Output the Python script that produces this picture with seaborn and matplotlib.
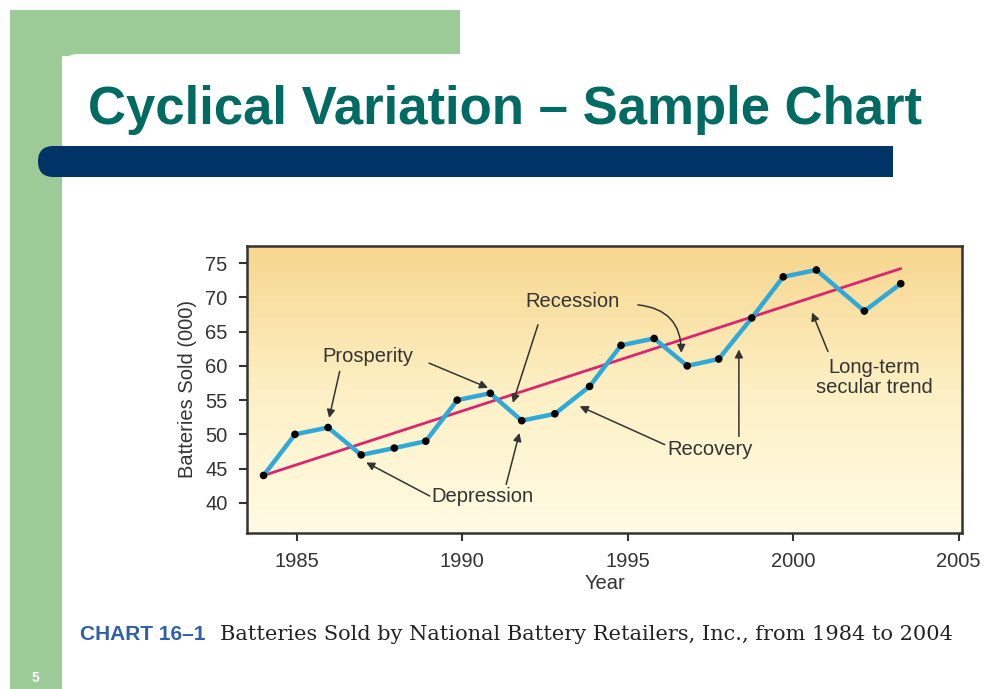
import numpy as np
import pandas as pd
import seaborn as sns
import matplotlib.pyplot as plt
from matplotlib.patches import Rectangle, FancyBboxPatch
from matplotlib.colors import LinearSegmentedColormap

# Values
years = [1984.0, 1984.95, 1985.95, 1986.95, 1987.95, 1988.9, 1989.85, 1990.85,
         1991.8, 1992.8, 1993.85, 1994.8, 1995.8, 1996.8, 1997.75, 1998.75,
         1999.7, 2000.7, 2002.15, 2003.25]
sold = [44, 50, 51, 47, 48, 49, 55, 56, 52, 53, 57, 63, 64, 60, 61, 67,
        73, 74, 68, 72]
trend_years = [1984.0, 2003.25]
trend_sold = [44.0, 74.2]
x_ticks = [1985, 1990, 1995, 2000, 2005]
y_ticks = [40, 45, 50, 55, 60, 65, 70, 75]

sns.set_theme(style="white")
plt.rcParams['font.family'] = ['Liberation Sans', 'DejaVu Sans']

W, H = 987.0, 689.0
fig = plt.figure(figsize=(W / 100, H / 100), dpi=100)
fig.patch.set_facecolor("white")


def px_box(x0, y0, x1, y1):
    """pixel box (top-left origin) -> inches (bottom-left origin)"""
    return x0 / 100, (H - y1) / 100, (x1 - x0) / 100, (y1 - y0) / 100


def add_rect(x0, y0, x1, y1, color, z, rounding=None):
    x, y, w, h = px_box(x0, y0, x1, y1)
    if rounding is None:
        p = Rectangle((x, y), w, h, transform=fig.dpi_scale_trans,
                      facecolor=color, lw=0, zorder=z)
    else:
        p = FancyBboxPatch((x, y), w, h, boxstyle=f"round,pad=0,rounding_size={rounding}",
                           transform=fig.dpi_scale_trans, facecolor=color, lw=0, zorder=z)
    fig.patches.append(p)


green = "#9ccb98"
add_rect(10, 10, 62, H, green, 0)
add_rect(10, 10, 460, 56, green, 0)
add_rect(62, 54, 975, H + 40, "white", 1, rounding=0.16)
add_rect(62, 120, 120, H, "white", 1)
# navy bar: round left end, square right end
add_rect(38, 146, 700, 177, "#003366", 2, rounding=0.155)
add_rect(400, 146, 893, 177, "#003366", 2)

fig.text(88 / W, 1 - 110 / H, "Cyclical Variation \u2013 Sample Chart", color="#006b63",
         fontsize=38, fontweight="bold", va="center", ha="left", zorder=3)
fig.text(35 / W, 1 - 678 / H, "5", color="white", fontsize=10, fontweight="bold",
         ha="center", va="center", zorder=3)

# caption
fig.text(80 / W, 1 - 634 / H, "CHART 16\u20131", color="#2f5fa6", fontsize=15,
         fontweight="bold", va="center", ha="left", zorder=3)
fig.text(220 / W, 1 - 634 / H,
         "Batteries Sold by National Battery Retailers, Inc., from 1984 to 2004",
         color="#222222", fontsize=15, family=["DejaVu Serif"],
         va="center", ha="left", zorder=3)

ax = fig.add_axes([247 / W, 1 - 533 / H, 715 / W, 287 / H])
ax.set_zorder(5)
xmin, xmax, ymin, ymax = 1983.5, 2005.1, 35.6, 77.5

# warm gradient behind the plot
grad = np.linspace(0, 1, 256).reshape(-1, 1)
bg = LinearSegmentedColormap.from_list("bg", ["#fffbe4", "#fdf0c4", "#f7d68e"])
ax.imshow(grad, cmap=bg, aspect="auto", origin="lower",
          extent=[xmin, xmax, ymin, ymax], zorder=0)

df = pd.DataFrame({"Year": years, "Sold": sold})
trend = pd.DataFrame({"Year": trend_years, "Sold": trend_sold})
sns.lineplot(data=trend, x="Year", y="Sold", color="#d9266f", lw=2, ax=ax, zorder=2)
sns.lineplot(data=df, x="Year", y="Sold", color="#2ea9d9", lw=3.2, ax=ax, zorder=3)
sns.scatterplot(data=df, x="Year", y="Sold", color="black", s=30, ax=ax, zorder=4,
                edgecolor="none")

ax.set_xlim(xmin, xmax)
ax.set_ylim(ymin, ymax)
ax.set_xticks(x_ticks)
ax.set_yticks(y_ticks)
ax.tick_params(axis="both", direction="out", length=6, width=1.5, colors="#333333",
               labelsize=14.5, labelcolor="#333333", bottom=True, left=True, pad=8)
for s in ax.spines.values():
    s.set_color("#333333")
    s.set_linewidth(1.8)
ax.set_xlabel("Year", fontsize=14.5, color="#333333", labelpad=2)
ax.set_ylabel("Batteries Sold (000)", fontsize=14.5, color="#333333", labelpad=6)

arrow = dict(arrowstyle="-|>", color="#333333", lw=1.1, mutation_scale=12,
             shrinkA=0, shrinkB=0)
txt = dict(fontsize=14.5, color="#333333", ha="center", va="center")

ax.text(1987.15, 61.3, "Prosperity", **txt)
ax.annotate("", xy=(1985.98, 52.4), xytext=(1986.3, 59.2), arrowprops=arrow)
ax.annotate("", xy=(1990.78, 56.8), xytext=(1989.0, 60.4), arrowprops=arrow)

ax.text(1993.34, 69.4, "Recession", **txt)
ax.annotate("", xy=(1991.53, 54.6), xytext=(1992.29, 66.0), arrowprops=arrow)
ax.annotate("", xy=(1996.62, 61.9), xytext=(1995.31, 68.9),
            arrowprops=dict(arrow, connectionstyle="arc3,rad=-0.45"))

ax.text(1990.62, 40.9, "Depression", **txt)
ax.annotate("", xy=(1987.1, 45.9), xytext=(1989.02, 41.0), arrowprops=arrow)
ax.annotate("", xy=(1991.73, 50.2), xytext=(1991.33, 42.7), arrowprops=arrow)

ax.text(1997.5, 47.8, "Recovery", **txt)
ax.annotate("", xy=(1993.55, 54.1), xytext=(1996.12, 48.5), arrowprops=arrow)
ax.annotate("", xy=(1998.36, 62.4), xytext=(1998.36, 49.7), arrowprops=arrow)

ax.text(2002.46, 58.3, "Long-term\nsecular trend", linespacing=1.05, **txt)
ax.annotate("", xy=(2000.57, 67.8), xytext=(2001.05, 62.1), arrowprops=arrow)

fig.savefig("out.png", dpi=100)
